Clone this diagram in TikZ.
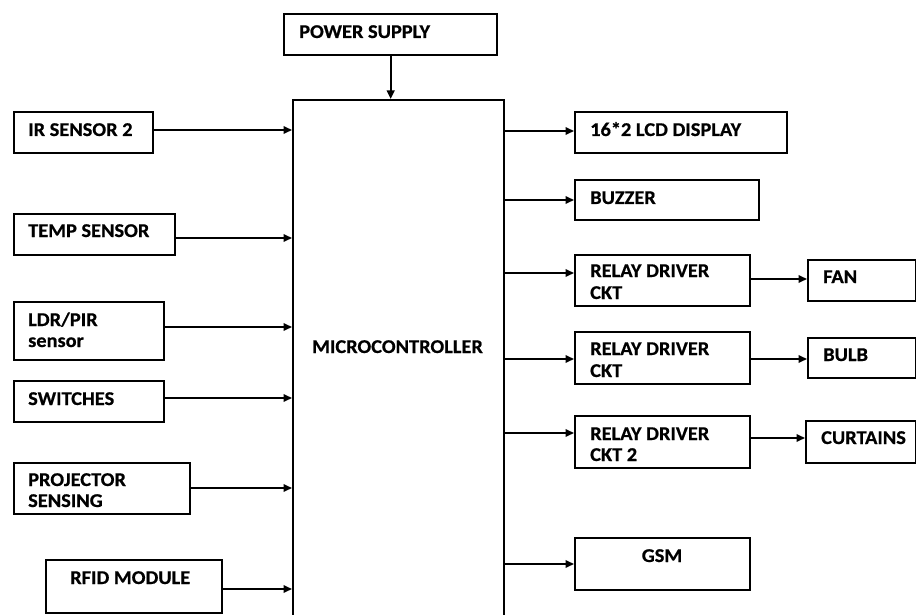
\documentclass[tikz,border=0pt]{standalone}
\usepackage{fontspec}
\setmainfont{Carlito}[FakeStretch=1.045, BoldFeatures={FakeBold=0.6}]
\usetikzlibrary{arrows.meta}
\tikzset{
  blk/.style={draw, line width=2.3pt, inner sep=0pt, anchor=north west},
  lbl/.style={inner sep=0pt, anchor=base west, font=\fontsize{19.5}{22}\selectfont\bfseries},
  lblc/.style={lbl, anchor=base},
  arr/.style={line width=1.7pt, -{Triangle[length=8.5pt,width=7.5pt]}},
}
\begin{document}
\begin{tikzpicture}[x=1pt,y=-1pt]
\useasboundingbox[fill=white] (0,0) rectangle (916,615);
\begin{scope}
\clip (0,0) rectangle (916,615);
% boxes
\node[blk, minimum width=213pt, minimum height=41pt] (ps) at (283,13) {};
\node[blk, minimum width=211pt, minimum height=540pt] (mcu) at (292,99) {};
\node[blk, minimum width=139pt, minimum height=41pt] (ir) at (13,111) {};
\node[blk, minimum width=161pt, minimum height=41pt] (temp) at (13,213) {};
\node[blk, minimum width=150pt, minimum height=58pt] (ldr) at (13,301) {};
\node[blk, minimum width=150pt, minimum height=41pt] (sw) at (13,380) {};
\node[blk, minimum width=176pt, minimum height=51pt] (proj) at (13,462) {};
\node[blk, minimum width=176pt, minimum height=53pt] (rfid) at (45,559) {};
\node[blk, minimum width=212pt, minimum height=41pt] (lcd) at (574,111) {};
\node[blk, minimum width=184pt, minimum height=40pt] (buz) at (574,179) {};
\node[blk, minimum width=175pt, minimum height=51pt] (rl1) at (574,254) {};
\node[blk, minimum width=175pt, minimum height=52pt] (rl2) at (574,331) {};
\node[blk, minimum width=175pt, minimum height=52pt] (rl3) at (574,415) {};
\node[blk, minimum width=175pt, minimum height=52pt] (gsm) at (574,537) {};
\node[blk, minimum width=108pt, minimum height=41pt] (fan) at (807,259) {};
\node[blk, minimum width=108pt, minimum height=40pt] (bulb) at (807,337) {};
\node[blk, minimum width=110pt, minimum height=42pt] (cur) at (805,420) {};
\end{scope}
% labels
\node[lbl] (psT) at (299,38) {POWER SUPPLY};
\node[lblc] (mcuT) at (397.5,353) {MICROCONTROLLER};
\node[lbl] (irT) at (28,136) {IR SENSOR 2};
\node[lbl] (tempT) at (28,237) {TEMP SENSOR};
\node[lbl] (ldrT1) at (28,326) {LDR/PIR};
\node[lbl] (ldrT2) at (28,347) {sensor};
\node[lbl] (swT) at (28,405) {SWITCHES};
\node[lbl] (projT1) at (28,486) {PROJECTOR};
\node[lbl] (projT2) at (28,507) {SENSING};
\node[lbl] (rfidT) at (70,584) {RFID MODULE};
\node[lbl] (lcdT) at (590,136) {16*2 LCD DISPLAY};
\node[lbl] (buzT) at (590,204) {BUZZER};
\node[lbl] (rl1T1) at (590,277) {RELAY DRIVER};
\node[lbl] (rl1T2) at (590,299) {CKT};
\node[lbl] (rl2T1) at (590,355) {RELAY DRIVER};
\node[lbl] (rl2T2) at (590,377) {CKT};
\node[lbl] (rl3T1) at (590,440) {RELAY DRIVER};
\node[lbl] (rl3T2) at (590,461) {CKT 2};
\node[lblc] (gsmT) at (662,562) {GSM};
\node[lbl] (fanT) at (823,283) {FAN};
\node[lbl] (bulbT) at (823,361) {BULB};
\node[lbl] (curT) at (821,444) {CURTAINS};
% connectors
\draw[arr, line width=2.3pt] (ps.south) -- (ps.south |- mcu.north);
\draw[arr] (ir.east |- 0,130) -- (mcu.west |- 0,130);
\draw[arr] (temp.east |- 0,238) -- (mcu.west |- 0,238);
\draw[arr] (ldr.east |- 0,327) -- (mcu.west |- 0,327);
\draw[arr] (sw.east |- 0,398) -- (mcu.west |- 0,398);
\draw[arr] (proj.east |- 0,488) -- (mcu.west |- 0,488);
\draw[arr] (rfid.east |- 0,589) -- (mcu.west |- 0,589);
\draw[arr] (mcu.east |- 0,131) -- (lcd.west |- 0,131);
\draw[arr] (mcu.east |- 0,200) -- (buz.west |- 0,200);
\draw[arr] (mcu.east |- 0,273) -- (rl1.west |- 0,273);
\draw[arr] (mcu.east |- 0,359) -- (rl2.west |- 0,359);
\draw[arr] (mcu.east |- 0,433) -- (rl3.west |- 0,433);
\draw[arr] (mcu.east |- 0,564) -- (gsm.west |- 0,564);
\draw[arr] (rl1.east |- 0,279) -- (fan.west |- 0,279);
\draw[arr] (rl2.east |- 0,359) -- (bulb.west |- 0,359);
\draw[arr] (rl3.east |- 0,438) -- (cur.west |- 0,438);
\end{tikzpicture}
\end{document}
